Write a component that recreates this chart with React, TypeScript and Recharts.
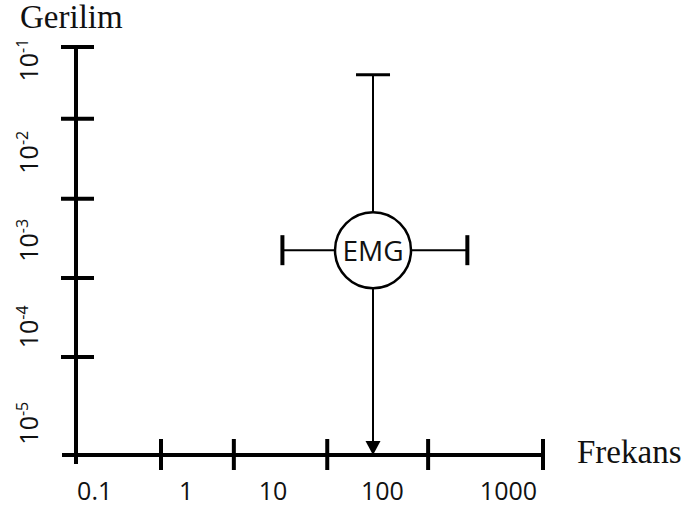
import React from "react";
import {
  ScatterChart,
  Scatter,
  XAxis,
  YAxis,
  ReferenceLine,
} from "recharts";

// axis units: one unit ~ one decade on the schematic
const xTickVals = [0, 0.91, 1.69, 2.69, 3.77, 5];
const xLabels = ["0.1", "1", "10", "100", "1000"];
const xLabelPos = [0.2, 1.18, 2.11, 3.28, 4.63];

const yTickVals = [0, 1.2, 2.17, 3.14, 4.12, 5];
const yExponents = ["-5", "-4", "-3", "-2", "-1"];
const yLabelPos = [0.39, 1.57, 2.63, 3.71, 4.84];

const emgPoint = [{ name: "EMG", x: 3.18, y: 2.51 }];
const emgRangeX = [2.21, 4.19];
const emgRangeY = [0, 4.66];

const R = 38;
const sansFont = "'Open Sans', sans-serif";
const serifFont = "'Liberation Serif', serif";

function XTick(props: any) {
  const { x, y, payload } = props;
  const v = payload.value;
  const li = xLabelPos.indexOf(v);
  if (li >= 0) {
    return (
      <text x={x} y={y + 35} textAnchor="middle" dominantBaseline="central"
        fontFamily={sansFont} fontSize={25} fill="#111">
        {xLabels[li]}
      </text>
    );
  }
  if (v === 0) {
    return <line x1={x} y1={y} x2={x} y2={y + 9} stroke="#000" strokeWidth={4} />;
  }
  return <line x1={x} y1={y - 16} x2={x} y2={y + 15} stroke="#000" strokeWidth={4} />;
}

function YTick(props: any) {
  const { x, y, payload } = props;
  const v = payload.value;
  const li = yLabelPos.indexOf(v);
  if (li >= 0) {
    const bx = x - 38;
    return (
      <text x={bx} y={y} transform={`rotate(-90, ${bx}, ${y})`} textAnchor="middle"
        fontFamily={sansFont} fontSize={25} fill="#111">
        10
        <tspan fontSize={16} dy={-10}>{yExponents[li]}</tspan>
      </text>
    );
  }
  if (v === 0) {
    return <line x1={x - 14} y1={y} x2={x} y2={y} stroke="#000" strokeWidth={4} />;
  }
  return <line x1={x - 15} y1={y} x2={x + 18} y2={y} stroke="#000" strokeWidth={4} />;
}

function makeArm(end: "cap" | "arrow", capHalf: number, capWidth: number) {
  return (p: any) => {
    const { x1, y1, x2, y2 } = p;
    const dx = x2 - x1;
    const dy = y2 - y1;
    const len = Math.hypot(dx, dy) || 1;
    const ux = dx / len;
    const uy = dy / len;
    const px = -uy;
    const py = ux;
    const sx = x1 + ux * R;
    const sy = y1 + uy * R;
    if (end === "arrow") {
      const bx = x2 - ux * 14;
      const by = y2 - uy * 14;
      return (
        <g>
          <line x1={sx} y1={sy} x2={bx} y2={by} stroke="#000" strokeWidth={2} />
          <polygon
            points={`${x2},${y2} ${bx + px * 7.5},${by + py * 7.5} ${bx - px * 7.5},${by - py * 7.5}`}
            fill="#000"
          />
        </g>
      );
    }
    return (
      <g>
        <line x1={sx} y1={sy} x2={x2} y2={y2} stroke="#000" strokeWidth={2} />
        <line
          x1={x2 + px * capHalf} y1={y2 + py * capHalf}
          x2={x2 - px * capHalf} y2={y2 - py * capHalf}
          stroke="#000" strokeWidth={capWidth}
        />
      </g>
    );
  };
}

function EmgShape(props: any) {
  const { cx, cy } = props;
  return (
    <g>
      <circle cx={cx} cy={cy} r={R} fill="#fff" stroke="#000" strokeWidth={2.5} />
      <text x={cx} y={cy} textAnchor="middle" dominantBaseline="central"
        fontFamily={sansFont} fontSize={28} fill="#111">
        EMG
      </text>
    </g>
  );
}

export default function App() {
  const p = emgPoint[0];
  return (
    <div style={{ position: "absolute", left: 0, top: 0 }}>
      <ScatterChart width={688} height={511} margin={{ top: 47, right: 145, bottom: 0, left: 0 }}>
        <XAxis
          type="number"
          dataKey="x"
          domain={[0, 5]}
          ticks={[...xTickVals, ...xLabelPos]}
          interval={0}
          tick={<XTick />}
          tickLine={false}
          tickSize={0}
          tickMargin={0}
          height={56}
          axisLine={{ stroke: "#000", strokeWidth: 4 }}
          label={{
            content: (lp: any) => {
              const vb = lp.viewBox;
              return (
                <text x={vb.x + vb.width + 34} y={vb.y + 8} fontFamily={serifFont}
                  fontSize={33} fill="#111">
                  Frekans
                </text>
              );
            },
          }}
        />
        <YAxis
          type="number"
          dataKey="y"
          domain={[0, 5]}
          ticks={[...yTickVals, ...yLabelPos]}
          interval={0}
          tick={<YTick />}
          tickLine={false}
          tickSize={0}
          tickMargin={0}
          width={76}
          axisLine={{ stroke: "#000", strokeWidth: 4 }}
          label={{
            content: (lp: any) => {
              const vb = lp.viewBox;
              return (
                <text x={vb.x + 20} y={vb.y - 19} fontFamily={serifFont}
                  fontSize={33} fill="#111">
                  Gerilim
                </text>
              );
            },
          }}
        />
        <ReferenceLine
          segment={[{ x: p.x, y: p.y }, { x: p.x, y: emgRangeY[1] }]}
          shape={makeArm("cap", 17, 3)}
        />
        <ReferenceLine
          segment={[{ x: p.x, y: p.y }, { x: p.x, y: emgRangeY[0] }]}
          shape={makeArm("arrow", 0, 0)}
        />
        <ReferenceLine
          segment={[{ x: p.x, y: p.y }, { x: emgRangeX[0], y: p.y }]}
          shape={makeArm("cap", 15, 4)}
        />
        <ReferenceLine
          segment={[{ x: p.x, y: p.y }, { x: emgRangeX[1], y: p.y }]}
          shape={makeArm("cap", 15, 4)}
        />
        <Scatter data={emgPoint} shape={<EmgShape />} isAnimationActive={false} />
      </ScatterChart>
    </div>
  );
}
